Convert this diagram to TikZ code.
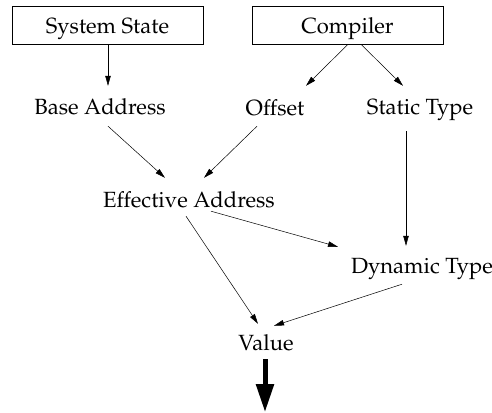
\documentclass[tikz,border=0pt]{standalone}
\usepackage[T1]{fontenc}
\usepackage{mathpazo}
\usetikzlibrary{arrows.meta,calc}
\begin{document}
\begin{tikzpicture}[x=1pt,y=-1pt,
  box/.style={draw,line width=0.6pt,minimum width=191pt,minimum height=38pt,inner sep=0pt,text height=18pt,text depth=0pt,font=\fontsize{22}{24}\selectfont},
  lbl/.style={inner sep=0pt,text height=16pt,text depth=5pt,anchor=base,font=\fontsize{22}{24}\selectfont},
  arr/.style={line width=0.5pt,-{Triangle[length=10pt,width=5.5pt]}},
  big/.style={line width=5pt,-{Triangle[length=28pt,width=17pt]}}]
\useasboundingbox (0,0) rectangle (492,412);
\node[box] (ss) at (107.5,25) {System State};
\node[box] (cp) at (347.5,25) {Compiler};
\node[lbl] (ba) at (100,114) {Base Address};
\node[lbl] (of) at (275,115) {Offset};
\node[lbl] (st) at (420,114) {Static Type};
\node[lbl] (ea) at (189,207) {Effective Address};
\node[lbl] (dt) at (422,273) {Dynamic Type};
\node[lbl] (va) at (266,350) {Value};
\draw[arr] ($(ss.south)+(0.5,0)$) -- ($(ba.north)+(8,-12)$);
\draw[arr] ($(cp.south)+(0.5,0)$) -- ($(of.north)+(31,-13)$);
\draw[arr] ($(cp.south)+(13.5,0)$) -- ($(st.north)+(-17,-12)$);
\draw[arr] ($(ba.south)+(8,7)$) -- ($(ea.north)+(-24,-13)$);
\draw[arr] ($(of.south)+(-18,6)$) -- ($(ea.north)+(15,-13)$);
\draw[arr] ($(st.south)+(-14,12)$) -- ($(dt.north)+(-16,-11)$);
\draw[arr] ($(ea.south)+(22,-1)$) -- ($(dt.north)+(-84,-10)$);
\draw[arr] ($(ea.south)+(-3,4)$) -- ($(va.north)+(-8,-10)$);
\draw[arr] ($(dt.south)+(-20,6)$) -- ($(va.north)+(8,-8)$);
\draw[big] ($(va.south)+(-1,4)$) -- ($(va.south)+(-1,57)$);
\end{tikzpicture}
\end{document}
